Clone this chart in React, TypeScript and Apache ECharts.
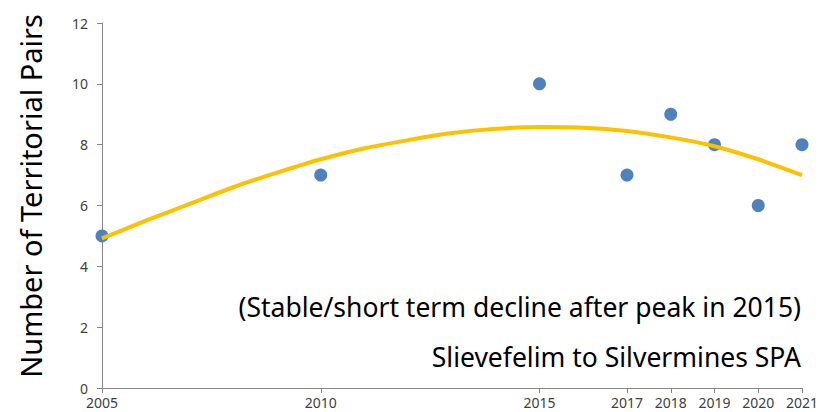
import React, { useEffect, useRef } from "react";
import * as echarts from "echarts";

const years = [2005, 2010, 2015, 2017, 2018, 2019, 2020, 2021];
const pairs = [5, 7, 10, 7, 9, 8, 6, 8];
const trendYears = [2005, 2006, 2007, 2008, 2009, 2010, 2011, 2012, 2013, 2014, 2015, 2016, 2017, 2018, 2019, 2020, 2021];
const trendValues = [4.92, 5.5, 6.05, 6.6, 7.08, 7.52, 7.88, 8.15, 8.38, 8.52, 8.58, 8.56, 8.45, 8.24, 7.95, 7.52, 7.0];
const yTicks = [0, 2, 4, 6, 8, 10, 12];
const yAxisTitle = "Number of Territorial Pairs";
const note1 = "(Stable/short term decline after peak in 2015)";
const note2 = "Slievefelim to Silvermines SPA";

const FONT = "'Noto Sans', 'Open Sans', sans-serif";

export default function App() {
  const ref = useRef<HTMLDivElement>(null);
  useEffect(() => {
    if (!ref.current) return;
    const chart = echarts.init(ref.current, undefined, { renderer: "svg" });
    chart.setOption({
      animation: false,
      grid: { left: 102, right: 28, top: 23, bottom: 24, containLabel: false },
      xAxis: {
        type: "value",
        min: 2005,
        max: 2021,
        splitLine: { show: false },
        axisLine: { show: true, lineStyle: { color: "#868686", width: 1 } },
        axisTick: { show: true, customValues: years, length: 5, lineStyle: { color: "#868686" } },
        axisLabel: {
          customValues: years,
          color: "#404040",
          fontSize: 14,
          fontFamily: FONT,
          margin: 7,
          formatter: (v: number) => String(v),
        },
      },
      yAxis: {
        type: "value",
        min: 0,
        max: 12,
        interval: 2,
        splitLine: { show: false },
        axisLine: { show: true, lineStyle: { color: "#868686", width: 1 } },
        axisTick: { show: true, customValues: yTicks, length: 5, lineStyle: { color: "#868686" } },
        axisLabel: { color: "#404040", fontSize: 14, fontFamily: FONT, margin: 14 },
      },
      series: [
        {
          type: "line",
          data: trendYears.map((y, i) => [y, trendValues[i]]),
          smooth: 0.3,
          showSymbol: false,
          lineStyle: { color: "#FFC000", width: 4 },
          z: 3,
        },
        {
          type: "scatter",
          data: years.map((y, i) => [y, pairs[i]]),
          symbolSize: 13,
          itemStyle: { color: "#4F81BD", opacity: 1 },
          z: 2,
        },
      ],
      graphic: [
        {
          type: "text",
          x: 30,
          y: 196,
          rotation: Math.PI / 2,
          style: {
            text: yAxisTitle,
            font: `29px ${FONT}`,
            fill: "#000",
            align: "center",
            verticalAlign: "middle",
          },
        },
        {
          type: "text",
          x: 801,
          y: 307,
          style: { text: note1, font: `26.5px ${FONT}`, fill: "#000", align: "right", verticalAlign: "middle" },
        },
        {
          type: "text",
          x: 801,
          y: 357,
          style: { text: note2, font: `26.5px ${FONT}`, fill: "#000", align: "right", verticalAlign: "middle" },
        },
      ],
    });
    return () => chart.dispose();
  }, []);
  return <div ref={ref} style={{ width: 830, height: 412, position: "absolute", left: 0, top: 0 }} />;
}
